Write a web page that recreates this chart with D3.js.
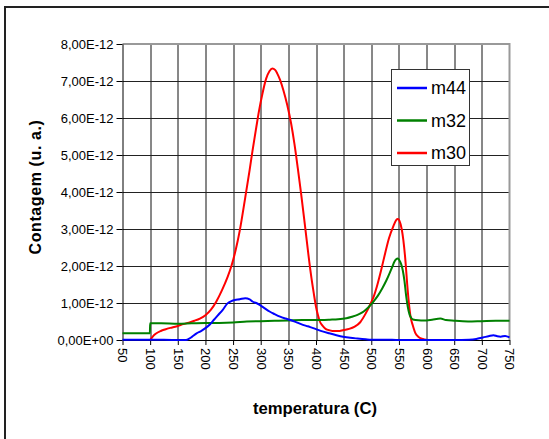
<!DOCTYPE html>
<html>
<head>
<meta charset="utf-8">
<script src="https://cdn.jsdelivr.net/npm/d3@7"></script>
<style>
  body { margin: 0; background: #fff; }
  svg { display: block; }
  svg text { font-family: "Liberation Sans", Arial, sans-serif; }
</style>
</head>
<body>
<div id="canvas"></div>
<script>
// temperature (C) and counts (x 1e-12)
var m44T = [50,100,150,165,175,184,192,200,208,215,222,231,240,247,253,262,272,280,285,292,298,306,316,325,335,345,354,363,373,385,399,410,424,437,449,462,475,490,500,525,550,600,650,677,690,702,712,721,728,734,742,750];
var m44V = [0.01,0.01,0,0,0.08,0.18,0.24,0.32,0.42,0.54,0.66,0.81,0.99,1.05,1.08,1.1,1.13,1.1,1.04,1.0,0.95,0.87,0.77,0.7,0.63,0.58,0.54,0.49,0.43,0.37,0.3,0.24,0.18,0.13,0.09,0.06,0.04,0.02,0.01,0.01,0,0,0,0.01,0.03,0.07,0.1,0.13,0.1,0.09,0.11,0.07];

var m32T = [50,99.5,100,120,150,175,200,225,250,275,300,325,350,375,400,425,440,455,465,475,483,490,497,505,512,520,527,533,538,542,545,548,551,554,557,560,563,566,569,572,575,580,590,600,610,625,635,650,675,700,725,750];
var m32V = [0.18,0.18,0.45,0.45,0.44,0.45,0.46,0.46,0.47,0.5,0.51,0.52,0.53,0.54,0.54,0.55,0.56,0.59,0.63,0.68,0.74,0.82,0.92,1.06,1.2,1.4,1.6,1.8,1.98,2.12,2.18,2.2,2.15,2.05,1.88,1.6,1.2,0.9,0.7,0.6,0.56,0.54,0.53,0.53,0.55,0.58,0.54,0.52,0.5,0.51,0.52,0.52];

var m30T = [100,105,110,120,130,140,150,160,170,180,190,200,210,220,230,240,247,255,262,272,280,285,292,297,303,310,316,321,326,330,335,341,348,355,361,367,373,380,386,392,396,400,403,407,411,416,420,425,432,440,450,460,470,480,490,500,505,510,518,525,532,540,545,548,551,555,558,562,565,568,571,575,580,585,590,595,600,630];
var m30V = [0,0.1,0.17,0.25,0.3,0.34,0.38,0.43,0.47,0.52,0.58,0.67,0.82,1.05,1.35,1.7,2.0,2.45,2.95,3.85,4.6,5.1,5.75,6.2,6.65,7.07,7.27,7.34,7.3,7.2,7.03,6.75,6.35,5.85,5.3,4.65,3.96,3.1,2.34,1.65,1.26,0.9,0.7,0.5,0.4,0.32,0.28,0.26,0.24,0.24,0.27,0.3,0.36,0.48,0.72,1.02,1.2,1.44,1.9,2.34,2.75,3.08,3.24,3.27,3.22,3.0,2.7,2.1,1.5,1.0,0.63,0.4,0.18,0.09,0.04,0.02,0,0];

var xTicks = [50,100,150,200,250,300,350,400,450,500,550,600,650,700,750];
var yTicks = [0,1,2,3,4,5,6,7,8];
var yTickLabels = ['0,00E+00','1,00E-12','2,00E-12','3,00E-12','4,00E-12','5,00E-12','6,00E-12','7,00E-12','8,00E-12'];

var seriesNames = ['m44', 'm32', 'm30'];
var seriesColors = ['#0000ff', '#008000', '#ff0000'];

var outerWidth = 549, outerHeight = 439;
var margin = { left: 122.5, top: 44, right: 39.5, bottom: 99 };
var innerWidth = outerWidth - margin.left - margin.right;
var innerHeight = outerHeight - margin.top - margin.bottom;

var x = d3.scaleLinear().domain([50, 750]).range([0, innerWidth]);
var y = d3.scaleLinear().domain([0, 8]).range([innerHeight, 0]);

var svg = d3.select('#canvas').append('svg')
  .attr('width', outerWidth)
  .attr('height', outerHeight);

// outer chart frame (only left and top visible in the picture)
svg.append('path')
  .attr('d', 'M5,' + outerHeight + 'V7H' + outerWidth)
  .attr('fill', 'none')
  .attr('stroke', '#222')
  .attr('stroke-width', 2);

var g = svg.append('g')
  .attr('transform', 'translate(' + margin.left + ',' + margin.top + ')');

// grid
g.append('g')
  .selectAll('line')
  .data(xTicks.slice(1, -1))
  .enter().append('line')
  .attr('x1', d => Math.round(x(d)) + 0.5).attr('x2', d => Math.round(x(d)) + 0.5)
  .attr('y1', 0).attr('y2', innerHeight)
  .attr('stroke', '#111').attr('stroke-width', 1);
g.append('g')
  .selectAll('line')
  .data(yTicks.slice(1, -1))
  .enter().append('line')
  .attr('x1', 0).attr('x2', innerWidth)
  .attr('y1', d => Math.round(y(d)) + 0.5).attr('y2', d => Math.round(y(d)) + 0.5)
  .attr('stroke', '#222').attr('stroke-width', 1);

// top / right border of plot area
g.append('path')
  .attr('d', 'M0,' + y(8) + 'H' + x(750) + 'V' + y(0))
  .attr('fill', 'none')
  .attr('stroke', '#999')
  .attr('stroke-width', 2);

// axes
var xAxis = g.append('g')
  .attr('transform', 'translate(0,' + innerHeight + ')')
  .call(d3.axisBottom(x).tickValues(xTicks).tickSize(5).tickSizeOuter(0));
xAxis.attr('font-family', null);
xAxis.select('.domain').attr('stroke', '#000');
xAxis.selectAll('text')
  .attr('font-size', 13)
  .attr('fill', '#000')
  .attr('text-anchor', 'start')
  .attr('transform', 'rotate(90)')
  .attr('x', 8)
  .attr('y', 0)
  .attr('dy', '0.35em');

var yAxis = g.append('g')
  .call(d3.axisLeft(y).tickValues(yTicks).tickSize(6).tickSizeOuter(0)
    .tickFormat((d, i) => yTickLabels[i]));
yAxis.attr('font-family', null);
yAxis.select('.domain').attr('stroke', '#000');
yAxis.selectAll('text')
  .attr('font-size', 13)
  .attr('fill', '#000')
  .attr('x', -9);

// axis titles
svg.append('text')
  .attr('x', 253)
  .attr('y', 414)
  .attr('font-size', 17)
  .attr('font-weight', 'bold')
  .attr('textLength', 124)
  .attr('lengthAdjust', 'spacingAndGlyphs')
  .text('temperatura (C)');

svg.append('text')
  .attr('transform', 'translate(41,187) rotate(-90)')
  .attr('text-anchor', 'middle')
  .attr('font-size', 16)
  .attr('font-weight', 'bold')
  .attr('letter-spacing', 0.6)
  .text('Contagem (u. a.)');

// series
var line = d3.line()
  .curve(d3.curveMonotoneX)
  .x(d => x(d[0]))
  .y(d => y(d[1]));

var allSeries = [
  m30T.map((t, i) => [t, m30V[i]]),
  m32T.map((t, i) => [t, m32V[i]]),
  m44T.map((t, i) => [t, m44V[i]])
];
var drawColors = [seriesColors[2], seriesColors[1], seriesColors[0]]; // m30 first, m44 on top
allSeries.forEach(function (s, j) {
  g.append('path')
    .attr('d', line(s))
    .attr('fill', 'none')
    .attr('stroke', drawColors[j])
    .attr('stroke-width', 2)
    .attr('stroke-linejoin', 'round');
});

// legend
var legend = svg.append('g').attr('transform', 'translate(391,69)');
legend.append('rect')
  .attr('x', 0.5).attr('y', 0.5)
  .attr('width', 78).attr('height', 96)
  .attr('fill', '#fff')
  .attr('stroke', '#333')
  .attr('stroke-width', 1);
seriesNames.forEach(function (name, i) {
  var ly = 19 + i * 32.5;
  legend.append('line')
    .attr('x1', 6).attr('x2', 36)
    .attr('y1', ly).attr('y2', ly)
    .attr('stroke', seriesColors[i])
    .attr('stroke-width', 2.5);
  legend.append('text')
    .attr('x', 40).attr('y', ly)
    .attr('dy', '0.35em')
    .attr('font-size', 18)
    .attr('fill', '#000')
    .text(name);
});
</script>
</body>
</html>
